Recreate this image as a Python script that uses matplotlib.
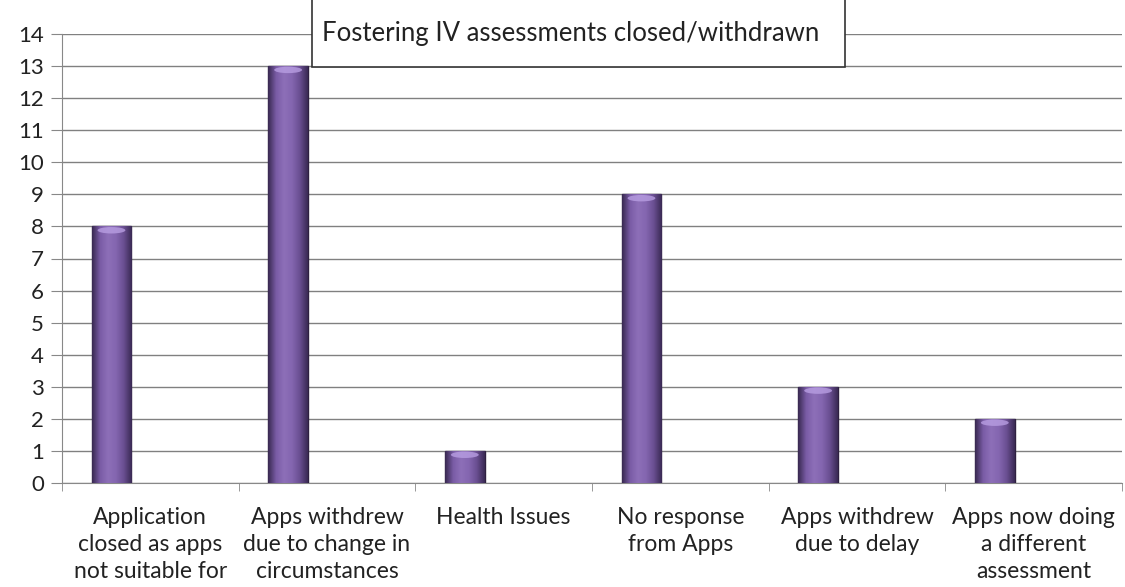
import numpy as np
import matplotlib.pyplot as plt
from matplotlib.colors import LinearSegmentedColormap
from matplotlib.patches import Rectangle, Ellipse

# data
categories = [
    "Application\nclosed as apps\nnot suitable for",
    "Apps withdrew\ndue to change in\ncircumstances",
    "Health Issues",
    "No response\nfrom Apps",
    "Apps withdrew\ndue to delay",
    "Apps now doing\na different\nassessment",
]
values = [8, 13, 1, 9, 3, 2]
title = "Fostering IV assessments closed/withdrawn"

plt.rcParams['font.family'] = ['Lato', 'DejaVu Sans']

W, H = 1125, 587
fig = plt.figure(figsize=(W / 100, H / 100), dpi=100)
ax = fig.add_axes([62 / W, (H - 483) / H, 1060 / W, 449 / H])

x = np.arange(len(categories))
bars = ax.bar(x - 0.22, values, width=0.225, color='#7f62a8',
              edgecolor='#2e2040', linewidth=1.0, zorder=3)

# cylinder-like shading for each bar
grad = LinearSegmentedColormap.from_list(
    'bar', ['#3a2a52', '#7a5ca6', '#8d6fb8', '#8466b0', '#6a4f92', '#3b2a55'])
g = np.linspace(0, 1, 64).reshape(1, -1)
for b in bars:
    x0, y0 = b.get_x(), b.get_y()
    w, h = b.get_width(), b.get_height()
    im = ax.imshow(g, cmap=grad, aspect='auto', zorder=3.5,
                   extent=[x0, x0 + w, y0, y0 + h])
    im.set_clip_path(b)
    hl = Ellipse((x0 + w / 2, y0 + h - 0.12), w * 0.7, 0.2,
                 facecolor='#b89ee2', edgecolor='none', alpha=0.8, zorder=3.6)
    hl.set_clip_path(b)
    ax.add_patch(hl)

ax.set_xlim(-0.5, len(categories) - 0.5)
ax.set_ylim(0, 14)
ax.set_yticks(range(0, 15))
ax.yaxis.grid(True, color='#808080', linewidth=1.0, zorder=1)
ax.set_axisbelow(True)

ax.set_xticks(x)
ax.set_xticklabels(categories, fontsize=16.5, color='#222222', linespacing=1.36,
                   va='top')
ax.set_xticks(np.arange(len(categories) + 1) - 0.5, minor=True)
ax.tick_params(axis='x', which='major', length=0, pad=17)
ax.tick_params(axis='x', which='minor', length=6, color='#888888', direction='out')
ax.tick_params(axis='y', length=8, color='#888888', labelsize=16,
               labelcolor='#222222', pad=5)

for s in ['top', 'right']:
    ax.spines[s].set_visible(False)
ax.spines['left'].set_color('#888888')
ax.spines['bottom'].set_color('#888888')

# title box overlapping the top gridline
box = Rectangle((312 / W, (H - 67) / H), (845 - 312) / W, 80 / H,
                transform=fig.transFigure, facecolor='white',
                edgecolor='#333333', linewidth=1.2, zorder=10)
fig.patches.append(box)
fig.text(571 / W, (H - 33) / H, title, ha='center', va='center',
         fontsize=18.5, color='#222222', zorder=11)

fig.savefig('out.png', dpi=100)
